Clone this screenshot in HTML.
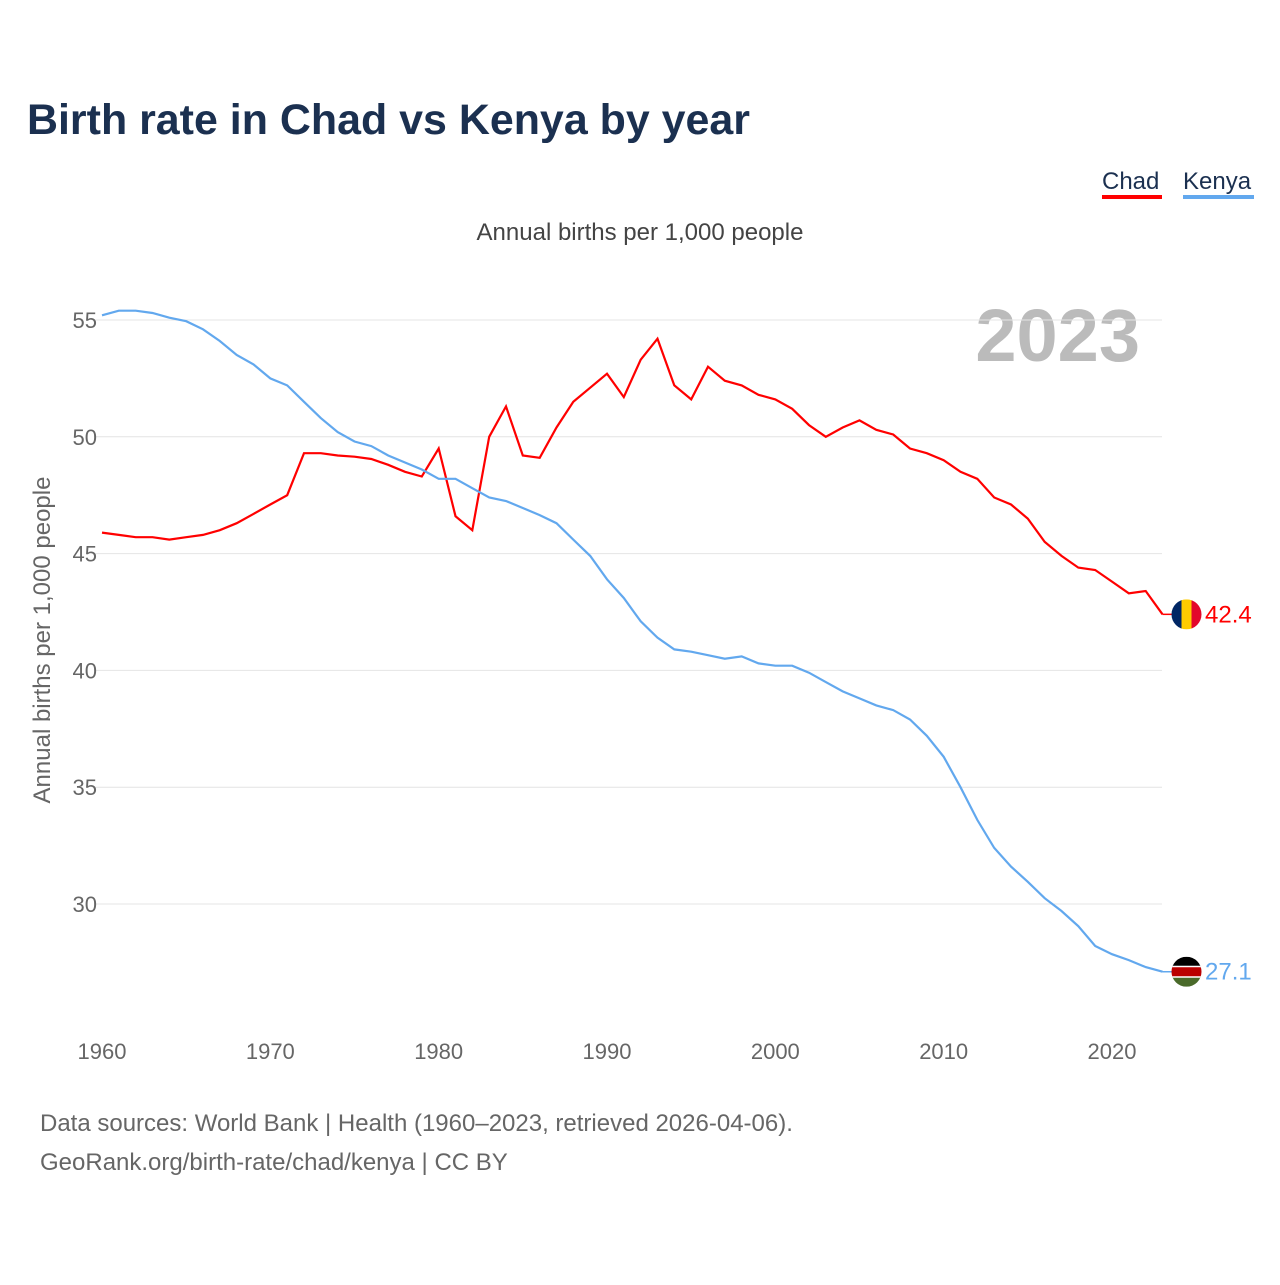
<!DOCTYPE html>
<html><head><meta charset="utf-8"><style>
body{margin:0;background:#fff;width:1280px;height:1280px;overflow:hidden;font-family:"Liberation Sans",sans-serif}
</style></head><body>
<svg id="chart" width="1280" height="1280" xmlns="http://www.w3.org/2000/svg" font-family="Liberation Sans, sans-serif">
<text x="27" y="134" font-size="43" font-weight="bold" fill="#1b3050" textLength="723" lengthAdjust="spacingAndGlyphs">Birth rate in Chad vs Kenya by year</text>
<g><text x="1102" y="189" font-size="24" fill="#1b3050">Chad</text><rect x="1102" y="195" width="60" height="4" fill="#f00"/></g>
<g><text x="1183" y="189" font-size="24" fill="#1b3050">Kenya</text><rect x="1183" y="195" width="71" height="4" fill="#62a8ee"/></g>
<text x="640" y="240" font-size="24" fill="#444" text-anchor="middle">Annual births per 1,000 people</text>
<text transform="translate(50,640) rotate(-90)" font-size="24" fill="#666" text-anchor="middle">Annual births per 1,000 people</text>
<text x="1140" y="361" font-size="74" font-weight="bold" fill="#bbb" text-anchor="end">2023</text>
<defs id="defs"></defs>
<g id="grid"></g><g id="xt"></g><g id="lines"></g>
<text x="40" y="1131" font-size="24" fill="#666">Data sources: World Bank | Health (1960–2023, retrieved 2026-04-06).</text>
<text x="40" y="1170" font-size="24" fill="#666">GeoRank.org/birth-rate/chad/kenya | CC BY</text>
</svg>
<script>
const years=[];for(let y=1960;y<=2023;y++)years.push(y);
const chad=[45.9,45.8,45.7,45.7,45.6,45.7,45.8,46.0,46.3,46.7,47.1,47.5,49.3,49.3,49.2,49.15,49.05,48.8,48.5,48.3,49.5,46.6,46.0,50.0,51.3,49.2,49.1,50.4,51.5,52.1,52.7,51.7,53.3,54.2,52.2,51.6,53.0,52.4,52.2,51.8,51.6,51.2,50.5,50.0,50.4,50.7,50.3,50.1,49.5,49.3,49.0,48.5,48.2,47.4,47.1,46.5,45.5,44.9,44.4,44.3,43.8,43.3,43.4,42.4];
const kenya=[55.2,55.4,55.4,55.3,55.1,54.95,54.6,54.1,53.5,53.1,52.5,52.2,51.5,50.8,50.2,49.8,49.6,49.2,48.9,48.6,48.2,48.2,47.8,47.4,47.25,46.95,46.65,46.3,45.6,44.9,43.9,43.1,42.1,41.4,40.9,40.8,40.65,40.5,40.6,40.3,40.2,40.2,39.9,39.5,39.1,38.8,38.5,38.3,37.9,37.2,36.3,35.0,33.6,32.4,31.6,30.95,30.25,29.7,29.05,28.2,27.85,27.6,27.3,27.1];
const yTicks=[30,35,40,45,50,55];
const xTicks=[1960,1970,1980,1990,2000,2010,2020];
const NS="http://www.w3.org/2000/svg";
const X=y=>102+(y-1960)*1010/60;
const Y=v=>320+(55-v)*584/25;
function mk(t,a,p){const e=document.createElementNS(NS,t);for(const k in a)e.setAttribute(k,a[k]);p.appendChild(e);return e;}
const g=document.getElementById('grid');
yTicks.forEach(v=>{
 const l=mk('line',{x1:95,x2:1162,y1:Y(v),y2:Y(v),stroke:'#e4e4e4'},g);
 
 
 const t=mk('text',{x:97,y:Y(v)+8,'font-size':22,fill:'#666','text-anchor':'end'},g);t.textContent=v;
 
 
});
const xt=document.getElementById('xt');
xTicks.forEach(v=>{
 const t=mk('text',{x:X(v),y:1059,'font-size':22,fill:'#666','text-anchor':'middle'},xt);t.textContent=v;
 
 
});
const L=document.getElementById('lines');
const defs=document.getElementById('defs');
function series(data,col,name){
 const p=mk('path',{d:data.map((v,i)=>(i?'L':'M')+X(years[i]).toFixed(1)+','+Y(v).toFixed(1)).join(''),fill:'none',stroke:col,'stroke-width':2.2},L);
 
 
 const lv=data[data.length-1],ly=Y(lv);
 mk('line',{x1:X(2023),x2:1172,y1:ly,y2:ly,stroke:col,'stroke-width':1.5},L);
 const cp=mk('clipPath',{id:'clip-'+name},defs);
 mk('circle',{cx:1186.5,cy:ly,r:15},cp);
 const fl=mk('g',{'clip-path':'url(#clip-'+name+')'},L);
 
 
 if(name==='chad'){
  mk('rect',{x:1171,y:ly-15,width:11,height:30,fill:'#002664'},fl);
  mk('rect',{x:1181.5,y:ly-15,width:10,height:30,fill:'#fecb00'},fl);
  mk('rect',{x:1191.5,y:ly-15,width:11,height:30,fill:'#e3072b'},fl);
 }else{
  mk('rect',{x:1171,y:ly-15,width:32,height:10,fill:'#000'},fl);
  mk('rect',{x:1171,y:ly-5,width:32,height:10,fill:'#b00'},fl);
  mk('rect',{x:1171,y:ly+5,width:32,height:10,fill:'#4a6a2a'},fl);
  mk('rect',{x:1171,y:ly-6,width:32,height:1.5,fill:'#fff'},fl);
  mk('rect',{x:1171,y:ly+4.5,width:32,height:1.5,fill:'#fff'},fl);
 }
 const t=mk('text',{x:1205,y:ly+8,'font-size':24,fill:col},L);t.textContent=lv.toFixed(1);
 
 
}
series(chad,'#f00','chad');
series(kenya,'#62a8ee','kenya');
</script>
</body></html>
